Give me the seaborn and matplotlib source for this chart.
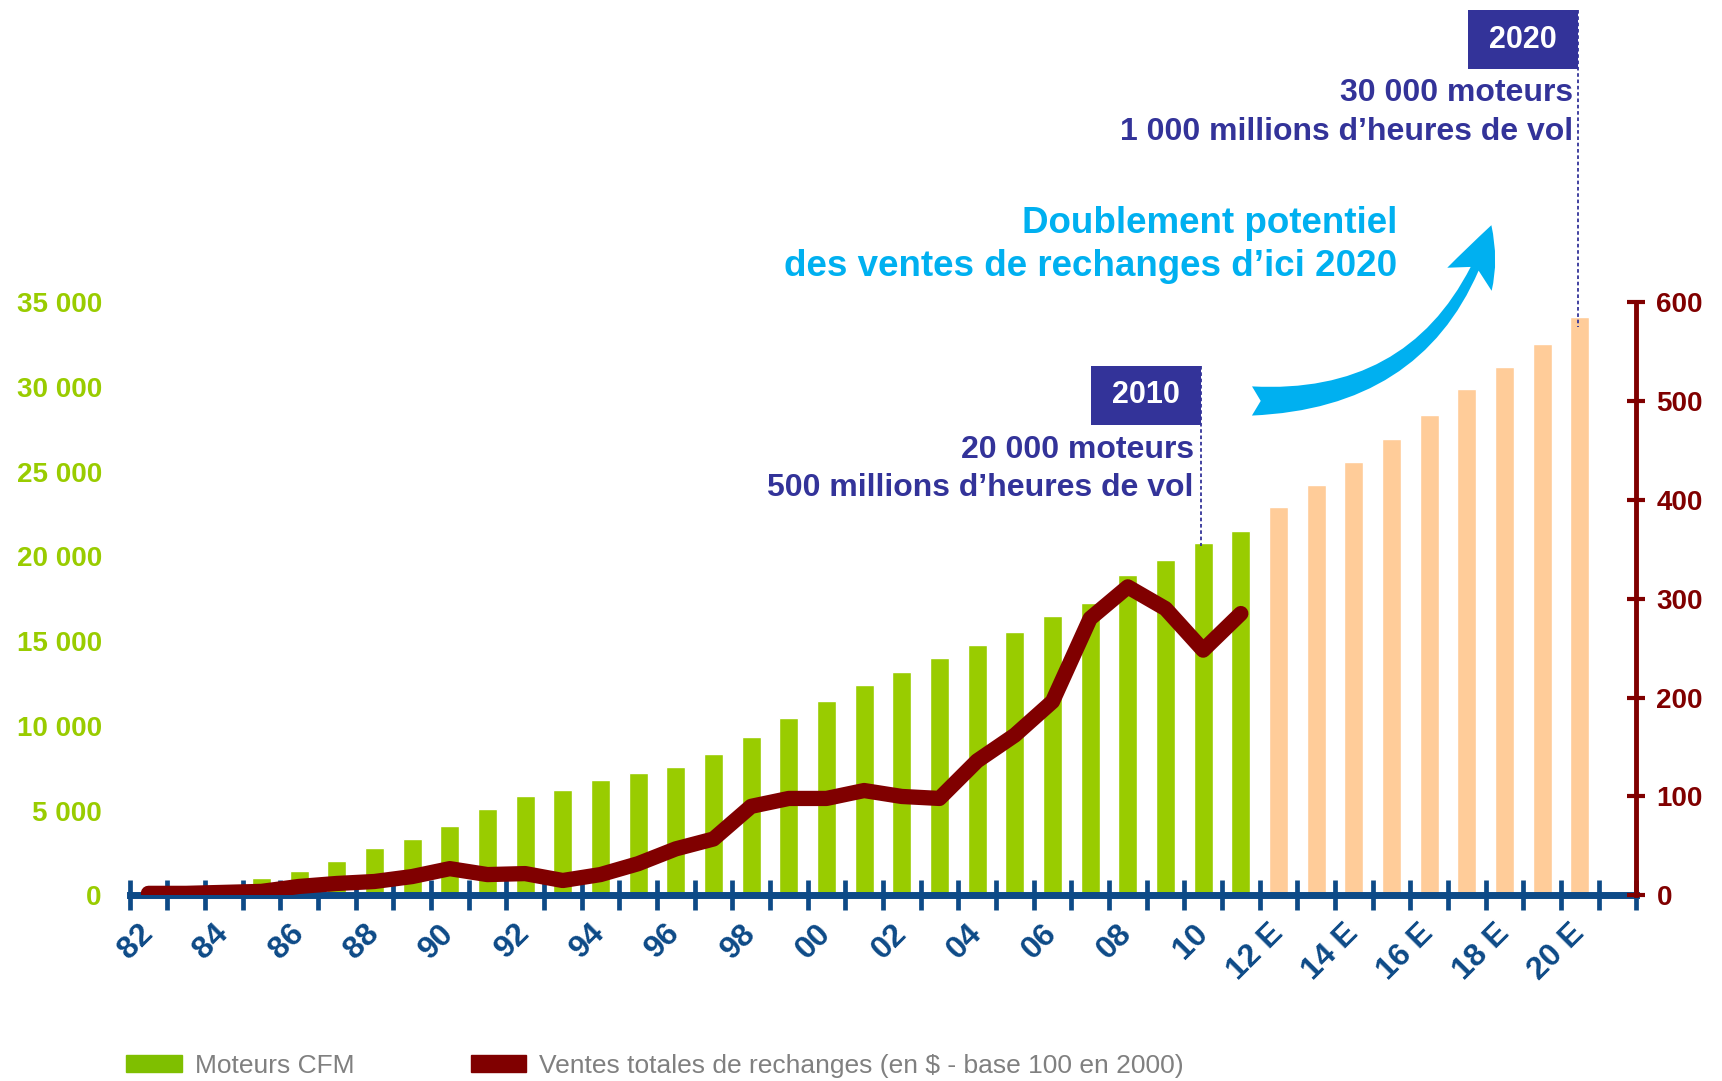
import numpy as np
import pandas as pd
import matplotlib
matplotlib.use("Agg")
import matplotlib.pyplot as plt
import seaborn as sns
from matplotlib.patches import Rectangle, FancyArrowPatch, Patch
from matplotlib.lines import Line2D

# --- données ---
annees = list(range(1982, 2021))
moteurs = [60, 180, 455, 1040, 1440, 2000, 2780, 3340, 4090, 5080,
           5840, 6200, 6830, 7200, 7580, 8340, 9330, 10460, 11460, 12430,
           13180, 13980, 14750, 15520, 16480, 17260, 18900, 19800, 20760, 21520,
           22900, 24220, 25580, 26940, 28330, 29850, 31170, 32530, 34130]
derniere_annee_reelle = 2011

annees_ventes = list(range(1982, 2012))
ventes = [2, 2, 3, 4, 9, 12, 14, 19, 27, 21,
          22, 15, 21, 32, 47, 57, 90, 98, 98, 106,
          100, 98, 136, 162, 196, 280, 312, 290, 248, 285]

labels_x = ['82', '84', '86', '88', '90', '92', '94', '96', '98', '00',
            '02', '04', '06', '08', '10', '12 E', '14 E', '16 E', '18 E', '20 E']
ticks_gauche = [0, 5000, 10000, 15000, 20000, 25000, 30000, 35000]
labels_gauche = ['0', '5 000', '10 000', '15 000', '20 000', '25 000', '30 000', '35 000']
ticks_droite = [0, 100, 200, 300, 400, 500, 600]

# couleurs
vert = '#99CC00'
orange = '#FFCC99'
bordeaux = '#800000'
bleu = '#0D4A87'
marine = '#333399'
cyan = '#00B0F0'


def fx(x):
    return x / 1568


def fy(y):
    return 1 - y / 984


sns.set_style('white')
plt.rcParams['font.family'] = ['Liberation Sans', 'DejaVu Sans']

df = pd.DataFrame({'annee': [str(a) for a in annees], 'moteurs': moteurs})
df['statut'] = np.where(np.array(annees) <= derniere_annee_reelle, 'reel', 'estime')

fig = plt.figure(figsize=(17.22, 10.81), dpi=100)
ax1 = fig.add_axes([fx(118), fy(815), fx(1490) - fx(118), fy(275) - fy(815)])

sns.barplot(data=df, x='annee', y='moteurs', hue='statut', order=df['annee'],
            palette={'reel': vert, 'estime': orange}, dodge=False, width=0.5,
            saturation=1, legend=False, ax=ax1)
ax1.set_xlabel('')
ax1.set_ylabel('')
ax1.set_ylim(0, 35000)
ax1.set_xlim(-0.5, 39.5)
ax1.set_yticks(ticks_gauche)
ax1.set_yticklabels(labels_gauche)
ax1.tick_params(axis='y', length=0, pad=20, labelsize=20, labelcolor=vert)
for lab in ax1.get_yticklabels():
    lab.set_fontweight('bold')

ax1.set_xticks(range(0, 39, 2))
ax1.set_xticklabels(labels_x)
ax1.set_xticks(np.arange(-0.5, 40, 1), minor=True)
ax1.tick_params(axis='x', which='major', bottom=True, length=0, pad=24, labelsize=23,
                labelcolor=bleu)
ax1.tick_params(axis='x', which='minor', bottom=True, direction='inout', length=22,
                width=3.4, color=bleu)
plt.setp(ax1.get_xticklabels(), rotation=45, ha='right', va='center',
         rotation_mode='anchor', fontweight='bold')
for s in ['left', 'top', 'right']:
    ax1.spines[s].set_visible(False)
ax1.spines['bottom'].set_color(bleu)
ax1.spines['bottom'].set_linewidth(5)

# courbe des ventes de rechanges
ax2 = ax1.twinx()
sns.lineplot(x=np.arange(len(ventes)), y=ventes, ax=ax2, color=bordeaux, lw=11,
             solid_capstyle='round', solid_joinstyle='round')
ax2.set_ylim(0, 600)
ax2.set_xlim(-0.5, 39.5)
ax2.set_yticks(ticks_droite)
ax2.tick_params(axis='y', right=True, direction='inout', length=13, width=3,
                color=bordeaux, labelsize=20, labelcolor=bordeaux, pad=8)
for lab in ax2.get_yticklabels():
    lab.set_fontweight('bold')
for s in ['left', 'top', 'bottom']:
    ax2.spines[s].set_visible(False)
ax2.spines['right'].set_color(bordeaux)
ax2.spines['right'].set_linewidth(3.5)

# annotations 2010 / 2020
for x0, x1, y0, y1, txt in [(993, 1094, 333, 387, '2010'), (1337, 1437, 9, 63, '2020')]:
    fig.add_artist(Rectangle((fx(x0), fy(y1)), fx(x1) - fx(x0), fy(y0) - fy(y1),
                             transform=fig.transFigure, color=marine, lw=0))
    fig.text(fx((x0 + x1) / 2), fy((y0 + y1) / 2), txt, color='white', weight='bold',
             size=22, ha='center', va='center')

for x, y0, y1 in [(1094, 333, 497), (1437, 9, 298)]:
    fig.add_artist(Line2D([fx(x), fx(x)], [fy(y0), fy(y1)], transform=fig.transFigure,
                          color=marine, lw=1.3, ls=(0, (2, 1.5))))

fig.text(fx(1087), fy(410), '20 000 moteurs', color=marine, weight='bold', size=23,
         ha='right', va='center')
fig.text(fx(1087), fy(444), '500 millions d’heures de vol', color=marine, weight='bold',
         size=23, ha='right', va='center')
fig.text(fx(1432), fy(85), '30 000 moteurs', color=marine, weight='bold', size=23,
         ha='right', va='center')
fig.text(fx(1432), fy(120), '1 000 millions d’heures de vol', color=marine, weight='bold',
         size=23, ha='right', va='center')

fig.text(fx(1272), fy(203), 'Doublement potentiel', color=cyan, weight='bold', size=26.5,
         ha='right', va='center')
fig.text(fx(1272), fy(243), 'des ventes de rechanges d’ici 2020', color=cyan,
         weight='bold', size=26.5, ha='right', va='center')

fleche = FancyArrowPatch(posA=(fx(1140), fy(365)), posB=(fx(1358), fy(205)),
                         transform=fig.transFigure, connectionstyle='arc3,rad=0.37',
                         arrowstyle='fancy,head_length=42,head_width=36,tail_width=21',
                         mutation_scale=1, shrinkA=0, shrinkB=0, color=cyan, lw=0)
fig.add_artist(fleche)

# légende
handles = [Patch(color='#7FBF00', label='Moteurs CFM'),
           Patch(color=bordeaux, label='Ventes totales de rechanges (en $ - base 100 en 2000)')]
fig.legend(handles=handles, loc='center left', bbox_to_anchor=(fx(115), fy(970)), ncol=2,
           frameon=False, fontsize=19, labelcolor='#808080', handlelength=2.1,
           handleheight=0.63, handletextpad=0.5, columnspacing=4.4, borderpad=0,
           borderaxespad=0)

fig.savefig('out.png', dpi=100)
